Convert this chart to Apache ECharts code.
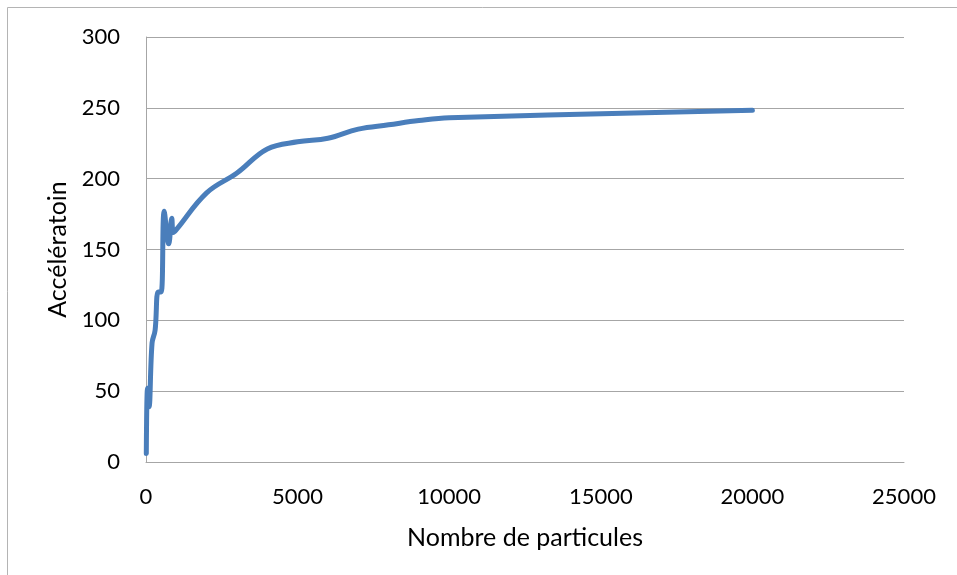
<!DOCTYPE html>
<html>
<head>
<meta charset="utf-8">
<script src="https://cdn.jsdelivr.net/npm/echarts@6/dist/echarts.min.js"></script>
<style>
html,body{margin:0;padding:0;background:#fff;}
#chart{width:957px;height:575px;}
</style>
</head>
<body>
<div id="chart"></div>
<script>
var particles = [10, 50, 100, 200, 300, 400, 500, 600, 750, 850, 900, 1000, 2000, 3000, 4000, 5000, 6000, 7000, 8000, 9000, 10000, 20000];
var acceleration = [6, 52, 39, 84, 93, 120, 120, 177, 154, 172, 162, 164, 190, 204, 221, 226, 228.5, 235, 238, 241, 243, 248.3];
var yTicks = [0, 50, 100, 150, 200, 250, 300];
var xTicks = [0, 5000, 10000, 15000, 20000, 25000];
var xName = 'Nombre de particules';
var yName = 'Accélératoin';

var chart = echarts.init(document.getElementById('chart'));
var font = 'Lato';
chart.setOption({
  animation: false,
  backgroundColor: '#ffffff',
  grid: {left: 146, right: 53, top: 37, bottom: 113},
  graphic: [
    {type: 'line', shape: {x1: 7.5, y1: 7.5, x2: 957, y2: 7.5}, style: {stroke: '#b4b4b4', lineWidth: 1}},
    {type: 'line', shape: {x1: 7.5, y1: 7.5, x2: 7.5, y2: 575}, style: {stroke: '#b4b4b4', lineWidth: 1}}
  ],
  xAxis: {
    type: 'value',
    min: xTicks[0], max: xTicks[xTicks.length - 1], interval: 5000,
    name: xName, nameLocation: 'middle', nameGap: 63,
    nameTextStyle: {fontFamily: font, fontSize: 25, color: '#000'},
    axisLine: {show: true, lineStyle: {color: '#a6a6a6', width: 1}},
    axisTick: {show: false},
    splitLine: {show: false},
    axisLabel: {fontFamily: font, fontSize: 22, color: '#000', margin: 24,
      formatter: function (v) { return String(v); }}
  },
  yAxis: {
    type: 'value',
    min: yTicks[0], max: yTicks[yTicks.length - 1], interval: 50,
    name: yName, nameLocation: 'middle', nameGap: 75, nameRotate: 90,
    nameTextStyle: {fontFamily: font, fontSize: 25, color: '#000'},
    axisLine: {show: true, lineStyle: {color: '#a6a6a6', width: 1}},
    axisTick: {show: false},
    splitLine: {show: true, lineStyle: {color: '#a6a6a6', width: 1}},
    axisLabel: {fontFamily: font, fontSize: 22, color: '#000', margin: 26,
      formatter: function (v) { return String(v); }}
  },
  series: [{
    type: 'line',
    data: particles.map(function (x, i) { return [x, acceleration[i]]; }),
    smooth: 0.4,
    showSymbol: false,
    lineStyle: {color: '#4a7ebb', width: 5, cap: 'round', join: 'round'}
  }]
});
</script>
</body>
</html>
